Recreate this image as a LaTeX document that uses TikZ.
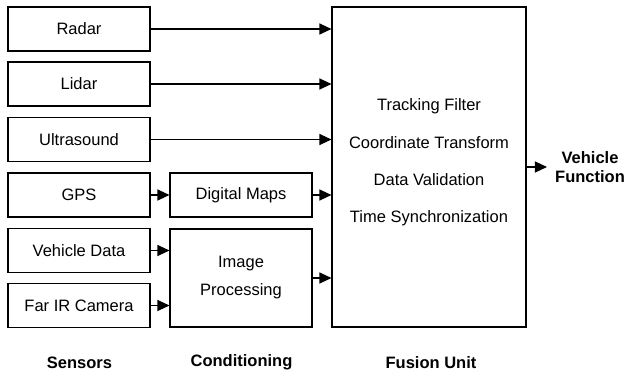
\documentclass[tikz,border=0pt]{standalone}
\usepackage{fontspec}
\setmainfont{Liberation Sans}
\usetikzlibrary{arrows.meta}
\begin{document}
\begin{tikzpicture}[x=1pt,y=-1pt,
  txt/.style={font=\fontsize{16.5}{19.5}\selectfont},
  box/.style={draw,line width=1.1pt,minimum width=142pt,minimum height=44pt,inner sep=0pt,txt,align=center},
  arr/.style={line width=1.1pt,-{Triangle[length=12pt,width=11pt]}},
  lbl/.style={font=\fontsize{16.5}{19.5}\selectfont\bfseries,align=center}]
\useasboundingbox (0,0) rectangle (629,374);
\node[box] (radar) at (79,29) {Radar};
\node[box] (lidar) at (79,84) {Lidar};
\node[box] (ultra) at (79,139.5) {Ultrasound};
\node[box] (gps) at (79,195) {GPS};
\node[box] (vdata) at (79,250.5) {Vehicle Data};
\node[box] (farir) at (79,305.5) {Far IR Camera};
\node[box] (maps) at (241,195) {Digital Maps};
\node[box,minimum height=98pt,font=\fontsize{16.5}{28}\selectfont] (imgp) at (241,278) {Image\\Processing};
\node[box,minimum width=194pt,minimum height=320pt] (fusion) at (429,167) {};
\node[txt,align=center,font=\fontsize{16.5}{37.2}\selectfont] (ftext) at (429,162.5) {Tracking Filter\\Coordinate Transform\\Data Validation\\Time Synchronization};
\node[lbl,inner sep=8pt] (vf) at (590,167) {Vehicle\\Function};
\node[lbl] (ls) at (79.5,362.5) {Sensors};
\node[lbl] (lc) at (241.5,362.5) {Conditioning};
\node[lbl] (lf) at (431,362.5) {Fusion Unit};
\draw[arr] (radar.east) -- (radar.east -| fusion.west);
\draw[arr] (lidar.east) -- (lidar.east -| fusion.west);
\draw[arr] (ultra.east) -- (ultra.east -| fusion.west);
\draw[arr] (gps.east) -- (maps.west);
\draw[arr] (vdata.east) -- (vdata.east -| imgp.west);
\draw[arr] (farir.east) -- (farir.east -| imgp.west);
\draw[arr] (maps.east) -- (maps.east -| fusion.west);
\draw[arr] (imgp.east) -- (imgp.east -| fusion.west);
\draw[arr] (fusion.east) -- (fusion.east -| vf.west);
\end{tikzpicture}
\end{document}
